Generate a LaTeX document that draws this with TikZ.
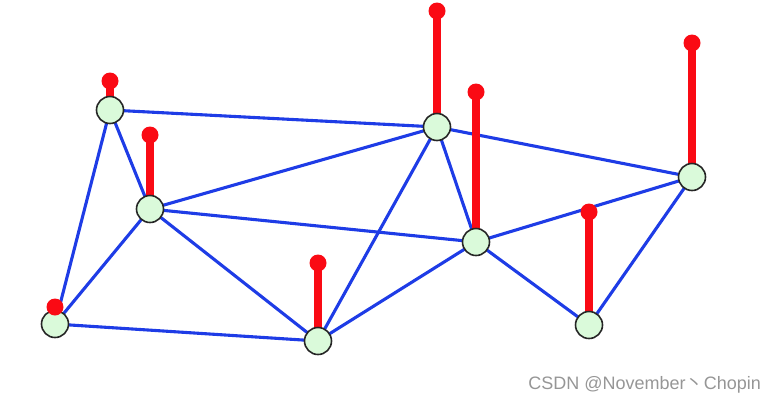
\documentclass[tikz,border=0pt]{standalone}
\usepackage{fontspec}
\newfontfamily\wmfont{Liberation Sans}
\newfontfamily\cjk{Noto Sans CJK SC}
\definecolor{edgeblue}{RGB}{30,60,230}
\definecolor{stickred}{RGB}{250,10,20}
\definecolor{nodegreen}{RGB}{218,250,218}
\definecolor{wmgray}{RGB}{150,150,150}
\tikzset{
  vtx/.style={circle,draw=black!85,line width=1.6pt,fill=nodegreen,minimum size=27pt,inner sep=0pt},
  edge/.style={draw=edgeblue,line width=3.1pt},
  stick/.style={draw=stickred,line width=7.5pt},
  knob/.style={circle,fill=stickred,minimum size=17pt,inner sep=0pt},
}
\begin{document}
\begin{tikzpicture}[x=1pt,y=-1pt]
\useasboundingbox (0,0) rectangle (776,405);
% vertex positions
\coordinate (pA) at (110,110);
\coordinate (pB) at (150,209);
\coordinate (pC) at (55,324);
\coordinate (pD) at (318,341);
\coordinate (pE) at (437,127);
\coordinate (pF) at (476,242);
\coordinate (pG) at (692,177);
\coordinate (pH) at (589,325);
% edges
\draw[edge] (pA) -- (pE);
\draw[edge] (pA) -- (pB);
\draw[edge] (pA) -- (pC);
\draw[edge] (pB) -- (pC);
\draw[edge] (pB) -- (pE);
\draw[edge] (pB) -- (pF);
\draw[edge] (pB) -- (pD);
\draw[edge] (pC) -- (pD);
\draw[edge] (pD) -- (pE);
\draw[edge] (pD) -- (pF);
\draw[edge] (pE) -- (pF);
\draw[edge] (pE) -- (pG);
\draw[edge] (pF) -- (pG);
\draw[edge] (pF) -- (pH);
\draw[edge] (pH) -- (pG);
% knob coordinates
\coordinate (kA) at (110,81);
\coordinate (kB) at (150,135);
\coordinate (kC) at (55,307);
\coordinate (kD) at (318,263);
\coordinate (kE) at (437,11);
\coordinate (kF) at (476,92);
\coordinate (kG) at (692,43);
\coordinate (kH) at (589,212);
% sticks
\foreach \v in {A,B,C,D,E,F,G,H} \draw[stick] (p\v) -- (k\v);
% vertices
\foreach \v in {A,B,C,D,E,F,G,H} \node[vtx] (\v) at (p\v) {};
% knobs
\foreach \v in {A,B,C,D,E,F,G,H} \node[knob] (n\v) at (k\v) {};
% watermark
\node[anchor=east,text=wmgray,font=\wmfont\fontsize{18}{21}\selectfont,inner sep=0pt] (wm) at (761,385) {CSDN @November{\cjk 丶}Chopin};
\end{tikzpicture}
\end{document}
